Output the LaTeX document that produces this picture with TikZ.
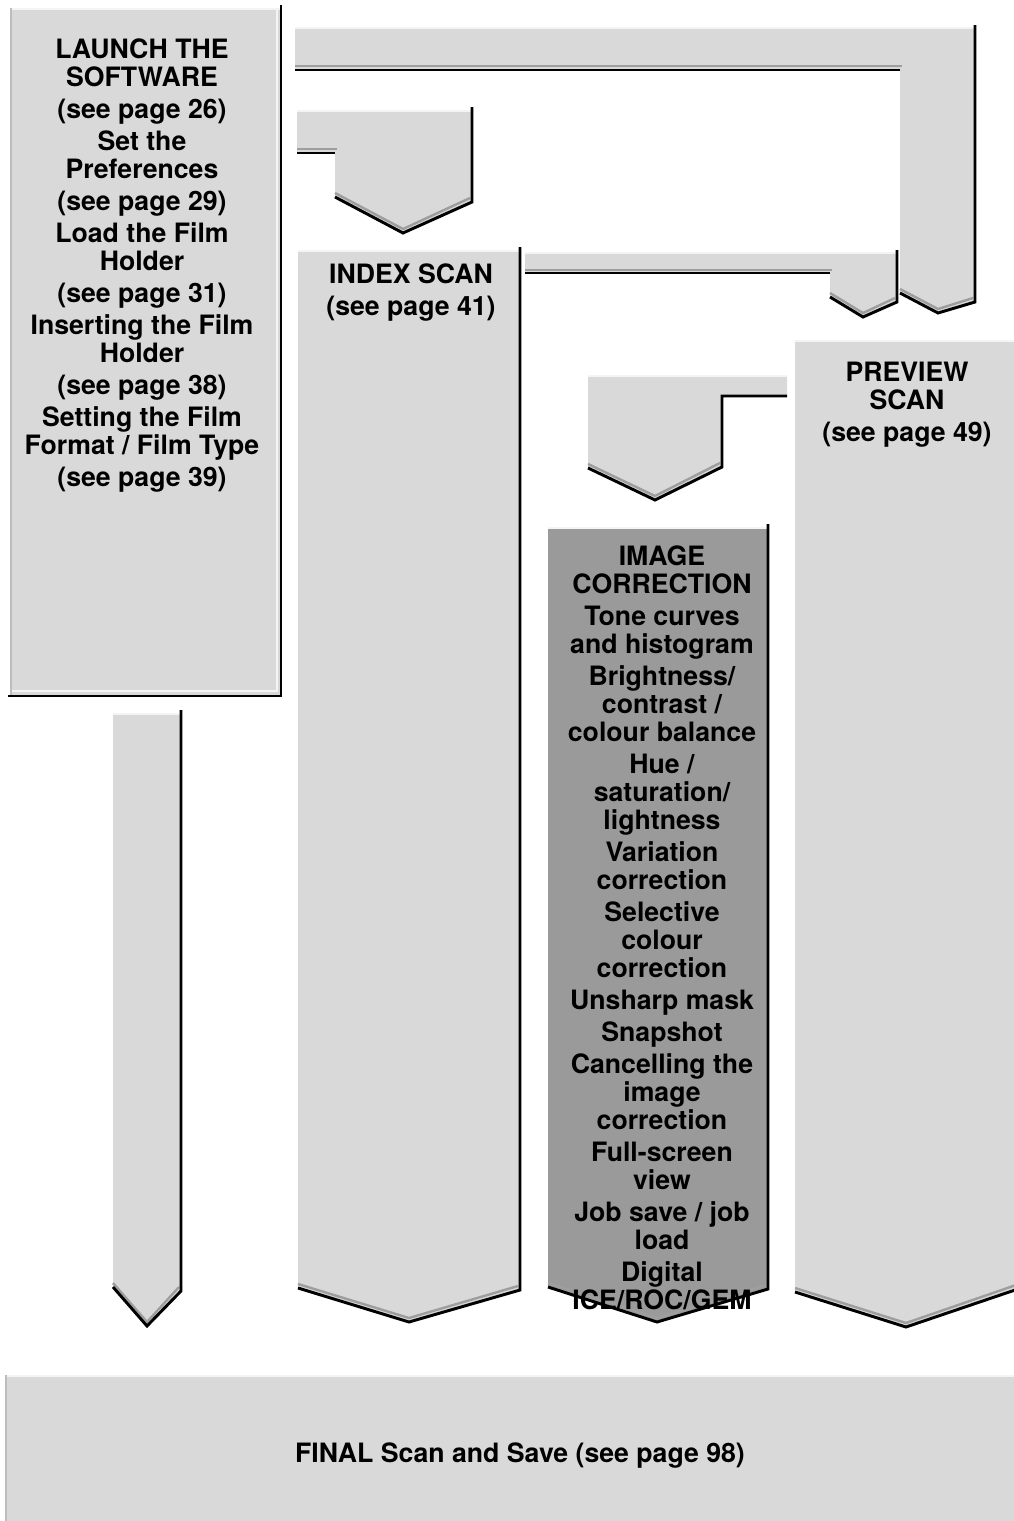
\documentclass[tikz,border=0pt]{standalone}
\usepackage{fontspec}
\setmainfont{TeX Gyre Heros}
\definecolor{panel}{HTML}{D9D9D9}
\definecolor{panelDark}{HTML}{9A9A9A}
\definecolor{rimgray}{HTML}{9E9E9E}
\definecolor{rimwhite}{HTML}{F4F4F4}
\definecolor{rimside}{HTML}{BDBDBD}
\begin{document}
\begin{tikzpicture}[
    x=0.75pt, y=-0.75pt,
    rimdark/.style={draw=black, line width=2.2pt},
    rimmid/.style={draw=rimgray, line width=1.8pt},
    rimlight/.style={draw=rimwhite, line width=1.5pt},
    rimleft/.style={draw=rimside, line width=1.2pt},
    boxtext/.style={font=\fontsize{20}{21}\selectfont\bfseries, align=center, anchor=north, inner sep=0pt},
]
\useasboundingbox (0,0) rectangle (1014,1521);

% Launch box
\fill[panel] (10,8) rectangle (280,695);
\draw[rimlight] (10,9) -- (280,9);
\draw[rimleft] (11,8) -- (11,695);
\draw[rimlight] (277,10) -- (277,691) -- (12,691);
\draw[rimdark] (281,5) -- (281,696) -- (8,696);

% Columns with chevron ends
\foreach \xl/\xr/\yt/\yl/\xt/\ytip/\yr/\col in {
  113/181/713/1287/147/1326/1291/panel,
  298/520/250/1288/409/1322/1290/panel,
  548/768/527/1287/657/1322/1289/panelDark,
  795/1018/340/1292/906/1327/1289/panel}{
  \fill[fill=\col] (\xl,\yt) -- (\xr,\yt) -- (\xr,\yr) -- (\xt,\ytip) -- (\xl,\yl) -- cycle;
  \draw[rimlight] (\xl,\yt+1) -- (\xr,\yt+1);
  \draw[rimmid] (\xl,\yl-4) -- (\xt,\ytip-4) -- (\xr-2,\yr-4);
  \draw[rimdark] (\xr,\yt-3) -- (\xr,\yr) -- (\xt,\ytip) -- (\xl,\yl);
}

% Launch -> preview
\fill[panel] (295,27) -- (975,27) -- (975,302) -- (938,313) -- (900,293) -- (900,70) -- (295,70) -- cycle;
\draw[rimlight] (295,28) -- (975,28);
\draw[rimmid] (295,66) -- (902,66);
\draw[rimmid] (900,289) -- (938,309) -- (973,298);
\draw[rimdark] (295,70) -- (900,70);
\draw[rimdark] (975,25) -- (975,302) -- (938,313) -- (900,293);

% Launch -> index
\fill[panel] (297,110) -- (472,110) -- (472,202) -- (403,233) -- (335,197) -- (335,153) -- (297,153) -- cycle;
\draw[rimlight] (297,111) -- (472,111);
\draw[rimmid] (297,149) -- (337,149);
\draw[rimmid] (335,193) -- (403,229) -- (470,198);
\draw[rimdark] (297,153) -- (335,153);
\draw[rimdark] (472,107) -- (472,202) -- (403,233) -- (335,197);

% Index -> preview
\fill[panel] (525,252) -- (897,252) -- (897,302) -- (863,317) -- (830,297) -- (830,273) -- (525,273) -- cycle;
\draw[rimlight] (525,253) -- (897,253);
\draw[rimmid] (525,270) -- (832,270);
\draw[rimmid] (830,293) -- (863,313) -- (895,298);
\draw[rimdark] (525,273) -- (830,273);
\draw[rimdark] (897,250) -- (897,302) -- (863,317) -- (830,297);

% Preview -> image correction
\fill[panel] (588,375) -- (787,375) -- (787,396) -- (722,396) -- (722,467) -- (655,500) -- (588,468) -- cycle;
\draw[rimlight] (588,376) -- (787,376);
\draw[rimmid] (588,464) -- (655,496) -- (720,463);
\draw[rimdark] (787,396) -- (722,396) -- (722,467) -- (655,500) -- (588,468);

% Final box
\fill[panel] (5,1375) rectangle (1018,1525);
\draw[rimlight] (5,1376) -- (1018,1376);
\draw[rimleft] (6,1375) -- (6,1525);

% Texts
\node[boxtext] (launch) at (142,38) {LAUNCH THE\\SOFTWARE\\[3pt](see page 26)\\[3pt]Set the\\Preferences\\[3pt](see page 29)\\[3pt]Load the Film\\Holder\\[3pt](see page 31)\\[3pt]Inserting the Film\\Holder\\[3pt](see page 38)\\[3pt]Setting the Film\\Format / Film Type\\[3pt](see page 39)};
\node[boxtext] (index) at (411,263) {INDEX SCAN\\[3pt](see page 41)};
\node[boxtext] (preview) at (907,362) {PREVIEW\\SCAN\\[3pt](see page 49)};
\node[boxtext] (imgcorr) at (662,545) {IMAGE\\CORRECTION\\[3pt]Tone curves\\and histogram\\[3pt]Brightness/\\contrast /\\colour balance\\[3pt]Hue /\\saturation/\\lightness\\[3pt]Variation\\correction\\[3pt]Selective\\colour\\correction\\[3pt]Unsharp mask\\[3pt]Snapshot\\[3pt]Cancelling the\\image\\correction\\[3pt]Full-screen\\view\\[3pt]Job save / job\\load\\[3pt]Digital\\ICE/ROC/GEM};
\node[boxtext, anchor=base] (final) at (520,1462) {FINAL Scan and Save (see page 98)};
\end{tikzpicture}
\end{document}
